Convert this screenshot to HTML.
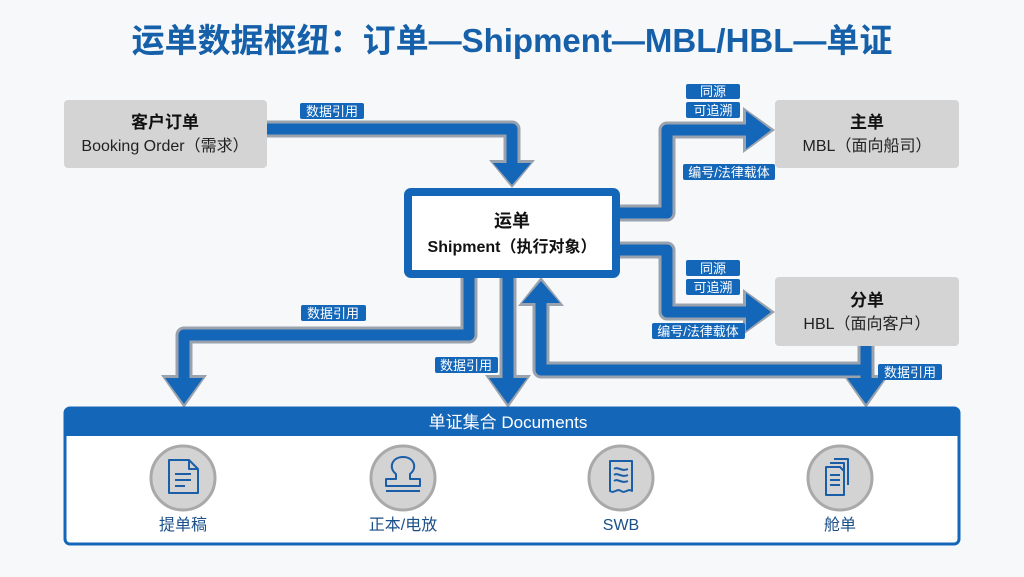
<!DOCTYPE html>
<html><head><meta charset="utf-8"><style>
body{margin:0;width:1024px;height:572px;background:#f7f8fa;overflow:hidden}
svg text{font-family:"Liberation Sans","Noto Sans CJK SC",sans-serif}
</style></head><body>
<svg width="1024" height="572" viewBox="0 0 1024 572" xmlns="http://www.w3.org/2000/svg">
<text x="512" y="52" text-anchor="middle" font-size="33" font-weight="bold" fill="#1560a8">运单数据枢纽：订单—Shipment—MBL/HBL—单证</text>
<g fill="none" stroke-linejoin="round" stroke="#9aa3ad" stroke-width="17">
<polyline points="267,129 512,129 512,165"/>
<polyline points="620,213 667,213 667,130 748,130"/>
<polyline points="620,250 667,250 667,312 748,312"/>
<polyline points="469,277 469,335 184,335 184,380"/>
<polyline points="508,277 508,380"/>
<polyline points="866,346 866,380"/>
<polyline points="866,370 541,370 541,302"/>
</g>
<g fill="#9aa3ad">
<polygon points="489,160 535,160 512,188"/>
<polygon points="743,107 743,153 775,130"/>
<polygon points="743,289 743,335 775,312"/>
<polygon points="161,375 207,375 184,408"/>
<polygon points="485,375 531,375 508,408"/>
<polygon points="843,375 889,375 866,408"/>
<polygon points="518,306 564,306 541,277"/>
</g>
<g fill="none" stroke-linejoin="round" stroke="#1466b8" stroke-width="11">
<polyline points="267,129 512,129 512,165"/>
<polyline points="620,213 667,213 667,130 748,130"/>
<polyline points="620,250 667,250 667,312 748,312"/>
<polyline points="469,277 469,335 184,335 184,380"/>
<polyline points="508,277 508,380"/>
<polyline points="866,346 866,380"/>
<polyline points="866,370 541,370 541,302"/>
</g>
<g fill="#1466b8">
<polygon points="493,163 531,163 512,185"/>
<polygon points="746,111 746,149 771,130"/>
<polygon points="746,293 746,331 771,312"/>
<polygon points="165,378 203,378 184,404"/>
<polygon points="489,378 527,378 508,404"/>
<polygon points="847,378 885,378 866,404"/>
<polygon points="522,303 560,303 541,281"/>
</g>
<rect x="64" y="100" width="203" height="68" rx="4" fill="#d4d4d4"/>
<text x="165" y="128" text-anchor="middle" font-size="17" font-weight="bold" fill="#111">客户订单</text>
<text x="165" y="151" text-anchor="middle" font-size="16" fill="#222">Booking Order（需求）</text>
<rect x="775" y="100" width="184" height="68" rx="4" fill="#d4d4d4"/>
<text x="867" y="128" text-anchor="middle" font-size="17" font-weight="bold" fill="#111">主单</text>
<text x="867" y="151" text-anchor="middle" font-size="16" fill="#222">MBL（面向船司）</text>
<rect x="775" y="277" width="184" height="69" rx="4" fill="#d4d4d4"/>
<text x="867" y="306" text-anchor="middle" font-size="17" font-weight="bold" fill="#111">分单</text>
<text x="867" y="329" text-anchor="middle" font-size="16" fill="#222">HBL（面向客户）</text>
<rect x="408" y="192" width="208" height="82" rx="3" fill="#fff" stroke="#1466b8" stroke-width="8"/>
<text x="512" y="227" text-anchor="middle" font-size="18" font-weight="bold" fill="#111">运单</text>
<text x="512" y="252" text-anchor="middle" font-size="16" font-weight="bold" fill="#111">Shipment（执行对象）</text>
<g font-size="13" fill="#fff" text-anchor="middle">
<rect x="300" y="103" width="64" height="16" rx="2" fill="#1466b8"/><text x="332" y="116">数据引用</text>
<rect x="686" y="84" width="54" height="15" rx="2" fill="#1466b8"/><text x="713" y="96">同源</text>
<rect x="686" y="102" width="54" height="16" rx="2" fill="#1466b8"/><text x="713" y="115">可追溯</text>
<rect x="683" y="164" width="92" height="16" rx="2" fill="#1466b8"/><text x="729" y="177">编号/法律载体</text>
<rect x="686" y="260" width="54" height="16" rx="2" fill="#1466b8"/><text x="713" y="273">同源</text>
<rect x="686" y="279" width="54" height="16" rx="2" fill="#1466b8"/><text x="713" y="292">可追溯</text>
<rect x="652" y="323" width="93" height="16" rx="2" fill="#1466b8"/><text x="698" y="336">编号/法律载体</text>
<rect x="301" y="305" width="65" height="16" rx="2" fill="#1466b8"/><text x="333" y="318">数据引用</text>
<rect x="435" y="357" width="63" height="16" rx="2" fill="#1466b8"/><text x="466" y="370">数据引用</text>
<rect x="878" y="364" width="64" height="16" rx="2" fill="#1466b8"/><text x="910" y="377">数据引用</text>
</g>
<rect x="65" y="408" width="894" height="136" rx="5" fill="#fff" stroke="#1466b8" stroke-width="3"/>
<path d="M65,436 V413 a5,5 0 0 1 5,-5 H954 a5,5 0 0 1 5,5 V436 Z" fill="#1466b8"/>
<text x="508" y="428" text-anchor="middle" font-size="17" fill="#fff">单证集合 Documents</text>
<g fill="#d3d3d3" stroke="#a9a9a9" stroke-width="3">
<circle cx="183" cy="478" r="32"/><circle cx="403" cy="478" r="32"/><circle cx="621" cy="478" r="32"/><circle cx="840" cy="478" r="32"/>
</g>
<g fill="none" stroke="#1a5ea8" stroke-width="2" stroke-linejoin="round">
<path d="M169,460 h20 l9,9 v24 h-29 z M189,460 v9 h9 M175,474 h16 M175,480 h16 M175,486 h10"/>
<path d="M396,474 c-8,-6 -4,-17 7,-17 c11,0 15,11 7,17 v5 h10 v7 h-34 v-7 h10 z M386,491 h34"/>
<path d="M610,461 h22 v30 c-4,-3 -7,3 -11,0 c-4,-3 -7,3 -11,0 z M614,469 c4,-3 7,3 14,0 M614,475 c4,-3 7,3 14,0 M614,481 c4,-3 7,3 14,0"/>
<path d="M834,459 h14 v26 M830,463 h14 v26 M826,467 h14 l4,4 v24 h-18 z M830,475 h10 M830,480 h10 M830,485 h10"/>
</g>
<g font-size="16" fill="#1a4f8a" text-anchor="middle">
<text x="183" y="530">提单稿</text><text x="403" y="530">正本/电放</text><text x="621" y="530">SWB</text><text x="840" y="530">舱单</text>
</g>
</svg>
</body></html>
